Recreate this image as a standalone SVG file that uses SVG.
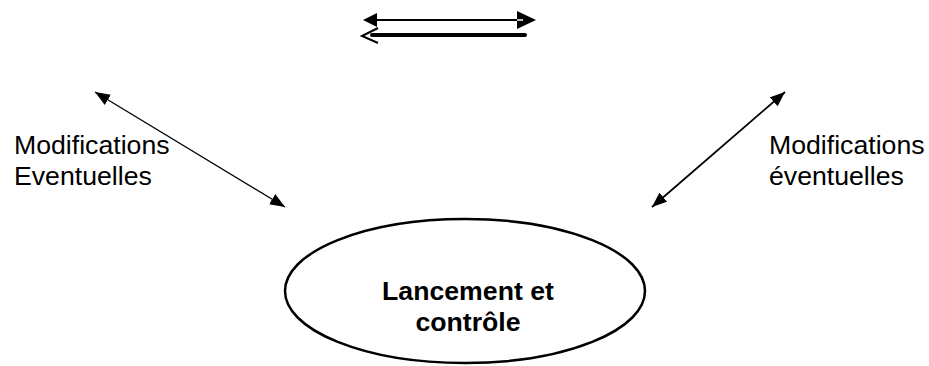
<svg xmlns="http://www.w3.org/2000/svg" width="929" height="366" viewBox="0 0 929 366">
<style>
.lbl{font-family:"Liberation Sans",Arial,sans-serif;font-size:26.67px;fill:#000}
.b{font-weight:bold}
.conn{stroke:#000;fill:none}
</style>
<defs>
<marker id="tri" markerUnits="userSpaceOnUse" markerWidth="16" markerHeight="12" refX="15" refY="6" orient="auto-start-reverse" viewBox="0 0 16 12">
<path d="M0,0 L15,6 L0,12 z" fill="#000"/>
</marker>
</defs>
<rect width="929" height="366" fill="#fff"/>
<g id="connectors">
<g id="top-arrows">
<line class="conn" x1="370" y1="20" x2="520" y2="20" stroke-width="2"/>
<polygon points="363,20 377,13 377,27" fill="#000"/>
<polygon points="536,20 517,11 517,29" fill="#000"/>
<line x1="517" y1="20" x2="523" y2="20" stroke="#fff" stroke-width="1.5"/>
<line class="conn" x1="372" y1="35" x2="525" y2="35" stroke-width="4" stroke-linecap="round"/>
<polyline class="conn" points="378,28 362,36 378,43" stroke-width="2"/>
</g>
<line id="arrow-left" class="conn" x1="95" y1="92" x2="285" y2="207" stroke-width="1.3" marker-start="url(#tri)" marker-end="url(#tri)"/>
<line id="arrow-right" class="conn" x1="785" y1="92" x2="652" y2="207" stroke-width="1.8" marker-start="url(#tri)" marker-end="url(#tri)"/>
</g>
<g id="label-left">
<text class="lbl" x="14" y="154">Modifications</text>
<text class="lbl" x="14" y="185">Eventuelles</text>
</g>
<g id="label-right">
<text class="lbl" x="769" y="154">Modifications</text>
<text class="lbl" x="769" y="185">éventuelles</text>
</g>
<g id="node-lancement">
<ellipse cx="465" cy="291" rx="180" ry="72" fill="#fff" stroke="#000" stroke-width="2.5"/>
<text class="lbl b" x="468" y="300" text-anchor="middle">Lancement et</text>
<text class="lbl b" x="468" y="331" text-anchor="middle">contrôle</text>
</g>
</svg>
